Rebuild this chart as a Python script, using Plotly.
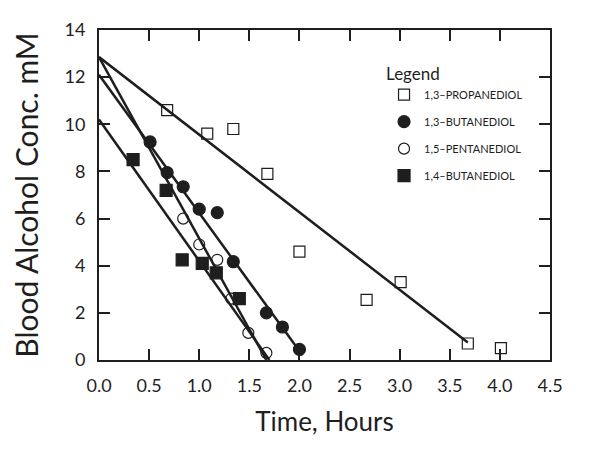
import plotly.graph_objects as go

# measured points (time in hours, blood conc. in mM)
prop_t = [0.68, 1.08, 1.34, 1.68, 2.00, 2.67, 3.01, 3.68, 4.01]
prop_c = [10.6, 9.6, 9.8, 7.9, 4.6, 2.55, 3.3, 0.7, 0.5]

bd13_t = [0.51, 0.68, 0.84, 1.00, 1.18, 1.34, 1.67, 1.83, 2.00]
bd13_c = [9.25, 7.95, 7.35, 6.4, 6.25, 4.17, 2.0, 1.4, 0.45]

pent_t = [0.84, 1.00, 1.18, 1.32, 1.49, 1.67]
pent_c = [6.0, 4.9, 4.25, 2.6, 1.15, 0.3]

bd14_t = [0.34, 0.67, 0.83, 1.03, 1.17, 1.40]
bd14_c = [8.5, 7.2, 4.25, 4.1, 3.7, 2.6]

# fitted lines (start / end)
prop_fit_t = [0.0, 3.68]
prop_fit_c = [12.85, 0.74]
bd13_fit_t = [0.0, 2.03]
bd13_fit_c = [12.1, 0.2]
pent_fit_t = [0.0, 1.67]
pent_fit_c = [12.85, 0.0]
bd14_fit_t = [0.0, 1.70]
bd14_fit_c = [10.2, 0.0]

ink = '#1e1e1e'
font = 'Lato'

fig = go.Figure()
for t, c in [(prop_fit_t, prop_fit_c), (bd13_fit_t, bd13_fit_c),
             (pent_fit_t, pent_fit_c), (bd14_fit_t, bd14_fit_c)]:
    fig.add_trace(go.Scatter(x=t, y=c, mode='lines', showlegend=False,
                             line=dict(color=ink, width=2.5), hoverinfo='skip'))

series = [
    ('1,3\u2013PROPANEDIOL', prop_t, prop_c, 'square-open', 11),
    ('1,3\u2013BUTANEDIOL', bd13_t, bd13_c, 'circle', 12),
    ('1,5\u2013PENTANEDIOL', pent_t, pent_c, 'circle-open', 11),
    ('1,4\u2013BUTANEDIOL', bd14_t, bd14_c, 'square', 12),
]
for i, (name, t, c, sym, sz) in enumerate(series):
    fig.add_trace(go.Scatter(x=t, y=c, mode='markers', name=name, legendgroup=str(i),
                             marker=dict(symbol=sym, size=sz, color=ink,
                                         line=dict(color=ink, width=1.2))))

axis = dict(showline=True, linecolor=ink, linewidth=2, mirror='ticks',
            ticks='inside', ticklen=11, tickwidth=2, tickcolor=ink,
            showgrid=False, zeroline=False,
            tickfont=dict(family=font, size=18, color=ink))

fig.update_xaxes(range=[0, 4.5], dtick=0.5, tickformat='.1f',
                 title=dict(text='Time, Hours', font=dict(family=font, size=26, color=ink), standoff=18),
                 ticklabelstandoff=8, **axis)
fig.update_yaxes(range=[0, 14], dtick=2, automargin=False,
                 title=dict(text='Blood Alcohol Conc. mM', font=dict(family=font, size=30, color=ink), standoff=38),
                 ticklabelstandoff=8, **axis)

fig.update_layout(
    width=600, height=456, autosize=False,
    margin=dict(l=91, r=58, t=22, b=104),
    paper_bgcolor='white', plot_bgcolor='white',
    legend=dict(x=0.632, y=0.915, xanchor='left', yanchor='top',
                title=dict(text='Legend', font=dict(family=font, size=17, color=ink)),
                font=dict(family=font, size=11, color=ink), itemwidth=30,
                tracegroupgap=8, bgcolor='rgba(0,0,0,0)'),
)
fig.write_html('out.html')
